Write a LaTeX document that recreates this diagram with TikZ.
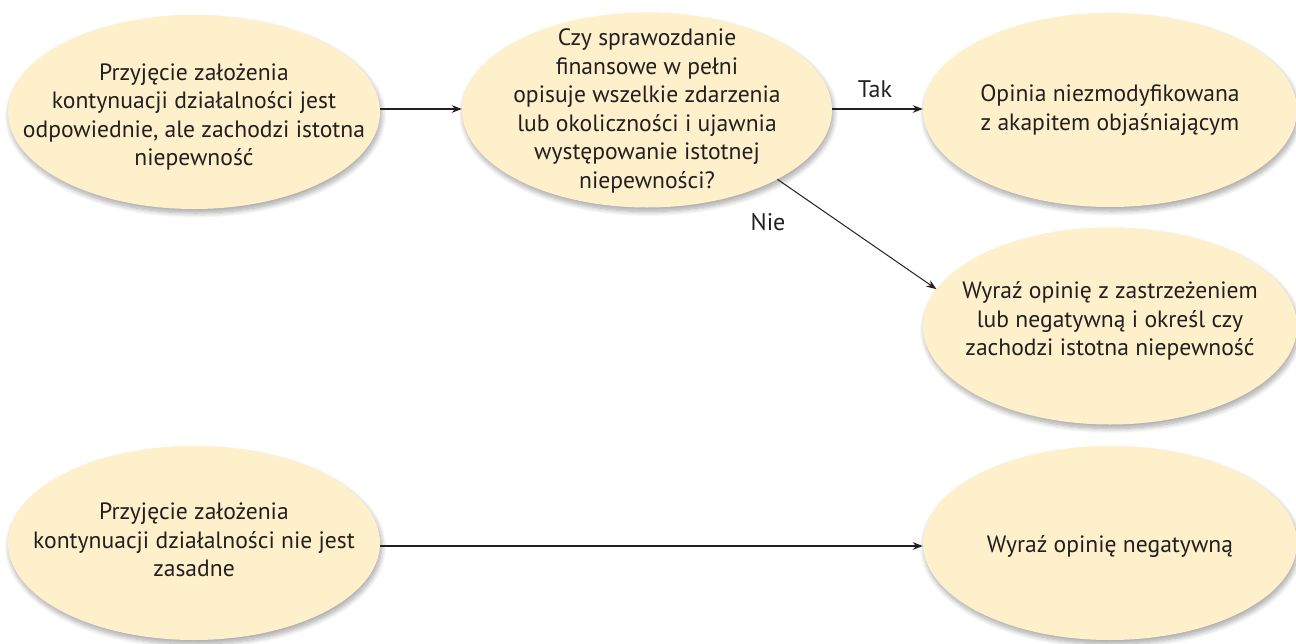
\documentclass[tikz,border=0pt]{standalone}
\usepackage{fontspec}
\setmainfont{PT Sans}
\usetikzlibrary{shapes.geometric,arrows.meta,shadows.blur}
\definecolor{bubble}{HTML}{FDF0CB}
\definecolor{ink}{HTML}{231F20}
\tikzset{
  bubble/.style={ellipse, fill=bubble, draw=none, minimum width=372pt, minimum height=194pt,
    inner sep=0pt,
    blur shadow={shadow xshift=1.5pt, shadow yshift=-4pt, shadow blur radius=5pt,
      shadow blur steps=10, shadow opacity=35}},
  txt/.style={align=center, inner sep=0pt, font=\fontsize{23.6}{28.5}\selectfont, text=ink},
  link/.style={draw=ink, line width=1.3pt, -{Stealth[length=10pt,width=7.5pt]}},
  lbl/.style={font=\fontsize{24}{26}\selectfont, text=ink, inner sep=0pt}
}
\begin{document}
\begin{tikzpicture}[x=1pt,y=-1pt]
  \useasboundingbox (0,0) rectangle (1296,643);
  % ellipses
  \node[bubble] (start) at (194,112) {};
  \node[bubble, minimum width=370pt, minimum height=195pt] (ask) at (647,110) {};
  \node[bubble, minimum width=374pt] (yes) at (1110,110) {};
  \node[bubble, minimum width=374pt, minimum height=197pt] (no) at (1110,326) {};
  \node[bubble] (bad) at (194,543) {};
  \node[bubble, minimum width=374pt] (neg) at (1110,543) {};
  % texts inside the ellipses
  \node[txt] (start-t) at (194,117) {Przyjęcie założenia\\kontynuacji działalności jest\\odpowiednie, ale zachodzi istotna\\niepewność};
  \node[txt] (ask-t) at (647,111) {Czy sprawozdanie\\finansowe w pełni\\opisuje wszelkie zdarzenia\\lub okoliczności i ujawnia\\występowanie istotnej\\niepewności?};
  \node[txt] (yes-t) at (1110,110) {Opinia niezmodyfikowana\\z akapitem objaśniającym};
  \node[txt] (no-t) at (1110,321) {Wyraź opinię z zastrzeżeniem\\lub negatywną i określ czy\\zachodzi istotna niepewność};
  \node[txt] (bad-t) at (194,540) {Przyjęcie założenia\\kontynuacji działalności nie jest\\zasadne};
  \node[txt] (neg-t) at (1110,546) {Wyraź opinię negatywną};

  % connectors
  \coordinate (row1) at (0,109);
  \coordinate (row3) at (0,546);
  \draw[link] (start.east |- row1) -- (ask.west |- row1);
  \draw[link] (ask.east |- row1) -- (yes.west |- row1);
  \draw[link, line width=1pt] (ask.-28) -- (no.168);
  \draw[link] (bad.east |- row3) -- (neg.west |- row3);

  \node[lbl] (tak) at (875,89) {Tak};
  \node[lbl] (nie) at (768,222) {Nie};
\end{tikzpicture}
\end{document}
